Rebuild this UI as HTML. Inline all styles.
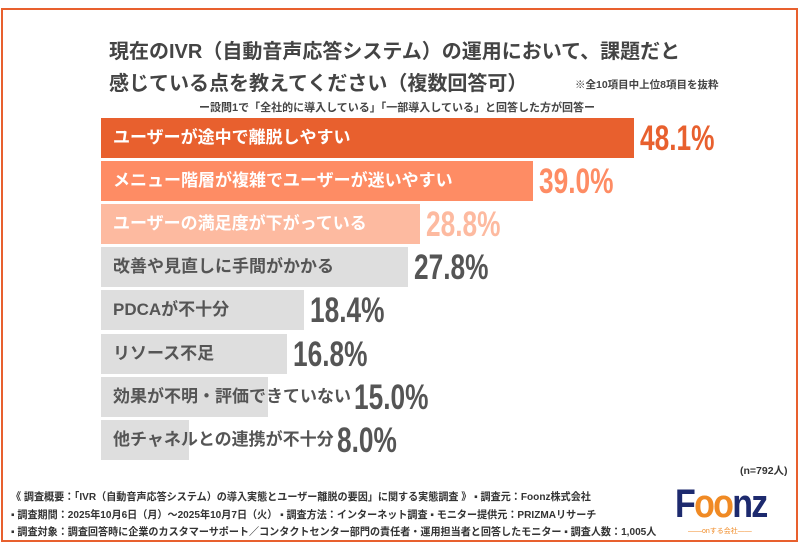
<!DOCTYPE html>
<html><head><meta charset="utf-8"><style>
*{margin:0;padding:0;box-sizing:border-box}
body{width:800px;height:550px;background:#fff;position:relative;overflow:hidden;font-family:"Liberation Sans","Noto Sans CJK JP",sans-serif}
.frame{position:absolute;left:1px;top:8px;width:797px;height:534px;border:2px solid #e8602e}
.t{position:absolute;color:#444;font-weight:bold;white-space:nowrap}
.bar{position:absolute;left:101px;height:40px}
.lab{position:absolute;left:113px;font-size:17px;font-weight:bold;line-height:40px;white-space:nowrap}
.pct{position:absolute;font-size:35px;font-weight:bold;line-height:40px;transform:scaleX(0.75);transform-origin:left center;white-space:nowrap}
.f{position:absolute;left:11px;font-size:10.5px;color:#333;white-space:nowrap;font-weight:bold;transform:scaleX(0.96);transform-origin:left}
</style></head><body>
<div class="frame"></div>
<div class="t" style="left:109px;top:35px;font-size:20px">現在のIVR（自動音声応答システム）の運用において、課題だと</div>
<div class="t" style="left:109px;top:67px;font-size:20px">感じている点を教えてください（複数回答可）</div>
<div class="t" style="left:575px;top:77px;font-size:10.5px">※全10項目中上位8項目を抜粋</div>
<div class="t" style="left:199px;top:99px;font-size:11px">ー設問1で「全社的に導入している」「一部導入している」と回答した方が回答ー</div>

<div class="bar" style="top:118px;width:533px;background:#e8602e"></div>
<div class="lab" style="top:118px;color:#fff">ユーザーが途中で離脱しやすい</div>
<div class="pct" style="top:119px;left:640px;color:#e8602e">48.1%</div>

<div class="bar" style="top:161px;width:432px;background:#fe8c64"></div>
<div class="lab" style="top:161px;color:#fff">メニュー階層が複雑でユーザーが迷いやすい</div>
<div class="pct" style="top:162px;left:539px;color:#fe8c64">39.0%</div>

<div class="bar" style="top:204px;width:319px;background:#fdbaa0"></div>
<div class="lab" style="top:204px;color:#fff">ユーザーの満足度が下がっている</div>
<div class="pct" style="top:205px;left:426px;color:#fdbaa0">28.8%</div>

<div class="bar" style="top:247px;width:307px;background:#dedede"></div>
<div class="lab" style="top:247px;color:#555">改善や見直しに手間がかかる</div>
<div class="pct" style="top:248px;left:414px;color:#555">27.8%</div>

<div class="bar" style="top:290px;width:203px;background:#dedede"></div>
<div class="lab" style="top:290px;color:#555">PDCAが不十分</div>
<div class="pct" style="top:291px;left:310px;color:#555">18.4%</div>

<div class="bar" style="top:334px;width:186px;background:#dedede"></div>
<div class="lab" style="top:334px;color:#555">リソース不足</div>
<div class="pct" style="top:335px;left:293px;color:#555">16.8%</div>

<div class="bar" style="top:377px;width:167px;background:#dedede"></div>
<div class="lab" style="top:377px;color:#555">効果が不明・評価できていない</div>
<div class="pct" style="top:378px;left:354px;color:#555">15.0%</div>

<div class="bar" style="top:420px;width:88px;background:#dedede"></div>
<div class="lab" style="top:420px;color:#555">他チャネルとの連携が不十分</div>
<div class="pct" style="top:421px;left:337px;color:#555">8.0%</div>

<div class="t" style="left:740px;top:463px;font-size:10.5px;color:#333">(n=792人)</div>
<div class="f" style="top:489px">《 調査概要：「IVR（自動音声応答システム）の導入実態とユーザー離脱の要因」に関する実態調査 》 ▪ 調査元：Foonz株式会社</div>
<div class="f" style="top:507px">▪ 調査期間：2025年10月6日（月）～2025年10月7日（火） ▪ 調査方法：インターネット調査 ▪ モニター提供元：PRIZMAリサーチ</div>
<div class="f" style="top:524px">▪ 調査対象：調査回答時に企業のカスタマーサポート／コンタクトセンター部門の責任者・運用担当者と回答したモニター ▪ 調査人数：1,005人</div>

<div style="position:absolute;left:675px;top:484px;font-size:40px;font-weight:bold;color:#1d2a6e;letter-spacing:-2px;line-height:40px;transform:scaleX(0.85);transform-origin:left">F<span style="color:#f08a24">oo</span>nz</div>
<div style="position:absolute;left:688px;top:526px;font-size:7px;color:#f08a24;white-space:nowrap">——onする会社——</div>
</body></html>
